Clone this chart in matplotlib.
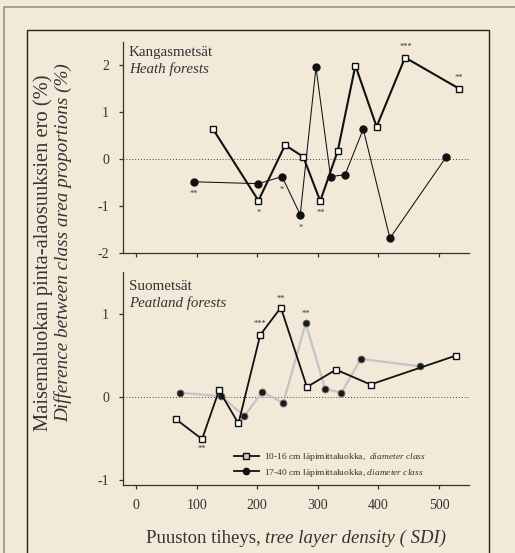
import matplotlib
matplotlib.use("Agg")
import matplotlib.pyplot as plt
from matplotlib.patches import Rectangle
from matplotlib.lines import Line2D
from matplotlib import rcParams

rcParams['font.family'] = ['Liberation Serif', 'DejaVu Serif']
rcParams['mathtext.fontset'] = 'custom'
rcParams['mathtext.rm'] = 'Liberation Serif'
rcParams['mathtext.it'] = 'Liberation Serif:italic'
rcParams['axes.unicode_minus'] = False
rcParams['axes.linewidth'] = 0.9
rcParams['axes.edgecolor'] = '#333333'
rcParams['xtick.color'] = '#333333'
rcParams['ytick.color'] = '#333333'
rcParams['text.color'] = '#333333'

BG = '#f3e9d8'

# Heath forests (Kangasmetsät)
heath_x_small = [127, 202, 246, 276, 304, 333, 362, 397, 444, 533]
heath_y_small = [0.64, -0.88, 0.30, 0.05, -0.89, 0.18, 1.99, 0.69, 2.16, 1.50]
heath_x_large = [96, 202, 241, 271, 297, 321, 345, 375, 419, 512]
heath_y_large = [-0.48, -0.52, -0.37, -1.18, 1.95, -0.37, -0.33, 0.64, -1.68, 0.05]
heath_star_x = [96, 202, 241, 271, 305, 445, 533]
heath_star_y = [-0.74, -1.15, -0.65, -1.47, -1.15, 2.39, 1.72]
heath_star_txt = ['**', '*', '*', '*', '**', '***', '**']

# Peatland forests (Suometsät)
peat_x_small = [66, 109, 137, 169, 205, 239, 282, 330, 387, 528]
peat_y_small = [-0.27, -0.51, 0.08, -0.32, 0.75, 1.08, 0.12, 0.33, 0.15, 0.50]
peat_x_large = [73, 140, 179, 208, 243, 280, 312, 339, 371, 469]
peat_y_large = [0.05, 0.01, -0.23, 0.06, -0.07, 0.89, 0.10, 0.05, 0.46, 0.37]
peat_star_x = [108, 205, 239, 280, 389]
peat_star_y = [-0.63, 0.88, 1.19, 1.00, 0.085]
peat_star_txt = ['**', '***', '**', '**', '**']

x_ticks = [0, 100, 200, 300, 400, 500]

fig = plt.figure(figsize=(5.15, 5.53), dpi=100, facecolor=BG)
W, H = 515.0, 553.0

# frames
fig.patches.append(Rectangle((4.3 / W, -0.2), 1.2, 1.2 - 7 / H, transform=fig.transFigure,
                             fill=False, ec='#8c8c8c', lw=1.1, clip_on=False))
fig.patches.append(Rectangle((27.3 / W, -0.2), (489 - 27.3) / W, 1.2 - 30 / H, transform=fig.transFigure,
                             fill=False, ec='#222222', lw=1.0, clip_on=False))

left, right = 123 / W, 469 / W
ax1 = fig.add_axes([left, 1 - 253.3 / H, right - left, (253.3 - 42) / H])
ax2 = fig.add_axes([left, 1 - 485 / H, right - left, (485 - 272) / H])

for ax in (ax1, ax2):
    ax.set_facecolor('none')
    ax.spines['top'].set_visible(False)
    ax.spines['right'].set_visible(False)
    ax.set_xlim(-21.5, 549.5)
    ax.set_xticks(x_ticks)
    ax.tick_params(direction='out', length=3, width=0.9, labelsize=10, pad=7)
    ax.axhline(0, color='#444444', lw=0.7, ls=(0, (1, 2)))

ax1.set_ylim(-2, 2.49)
ax1.set_yticks([-2, -1, 0, 1, 2])
ax1.set_xticklabels([])
ax2.set_ylim(-1.064, 1.51)
ax2.set_yticks([-1, 0, 1])

# top panel
ax1.plot(heath_x_large, heath_y_large, color='#111111', lw=0.75, marker='o', ms=5,
         mfc='#111111', mec='#111111', zorder=3)
ax1.plot(heath_x_small, heath_y_small, color='#111111', lw=1.5, marker='s', ms=4.2,
         mfc='white', mec='#111111', mew=1.0, zorder=4)
for x, y, t in zip(heath_star_x, heath_star_y, heath_star_txt):
    ax1.text(x, y, t, fontsize=6, ha='center', va='center')
ax1.text(0.017, 0.949, 'Kangasmetsät', transform=ax1.transAxes, fontsize=10.8, va='center')
ax1.text(0.017, 0.871, 'Heath forests', transform=ax1.transAxes, fontsize=10.8, va='center',
         style='italic')

# bottom panel
ax2.plot(peat_x_large, peat_y_large, color='#c4c4c4', lw=1.6, marker='o', ms=5,
         mfc='#1a1a1a', mec='#777777', mew=0.6, zorder=3)
ax2.plot(peat_x_small, peat_y_small, color='#111111', lw=1.3, marker='s', ms=4.2,
         mfc='white', mec='#111111', mew=1.0, zorder=4)
for x, y, t in zip(peat_star_x, peat_star_y, peat_star_txt):
    ax2.text(x, y, t, fontsize=6, ha='center', va='center')
ax2.text(0.017, 0.931, 'Suometsät', transform=ax2.transAxes, fontsize=10.8, va='center')
ax2.text(0.017, 0.856, 'Peatland forests', transform=ax2.transAxes, fontsize=10.8, va='center',
         style='italic')

handles = [
    Line2D([], [], color='#111111', lw=1.3, marker='s', ms=4, mfc='#cccccc', mec='#111111'),
    Line2D([], [], color='#111111', lw=1.3, marker='o', ms=4.5, mfc='#111111', mec='#111111'),
]
labels = [r'10-16 cm läpimittaluokka, $\mathit{\ diameter\ class}$',
          r'17-40 cm läpimittaluokka, $\mathit{diameter\ class}$']
ax2.legend(handles, labels, loc='upper left', bbox_to_anchor=(0.32, 0.16), frameon=False,
           fontsize=6.8, handlelength=2.7, handletextpad=0.5, labelspacing=0.4,
           borderpad=0, borderaxespad=0)

fig.text(43 / W, 1 - 253 / H, 'Maisemaluokan pinta-alaosuuksien ero (%)', rotation=90,
         ha='center', va='center', fontsize=14.8)
fig.text(63 / W, 1 - 243 / H, 'Difference between class area proportions (%)', rotation=90,
         ha='center', va='center', fontsize=13.8, style='italic')

# x label: upright part + italic part, centred together
renderer = fig.canvas.get_renderer()
t_a = fig.text(0, 0, 'Puuston tiheys, ', ha='left', va='baseline', fontsize=13.5)
t_b = fig.text(0, 0, 'tree layer density ( SDI)', ha='left', va='baseline', fontsize=13.5,
               style='italic')
w_a = t_a.get_window_extent(renderer).width
w_b = t_b.get_window_extent(renderer).width
x0 = 296 - (w_a + w_b) / 2
t_a.set_position((x0 / W, 1 - 543 / H))
t_b.set_position(((x0 + w_a) / W, 1 - 543 / H))

fig.savefig('out.png', dpi=100, facecolor=BG)
